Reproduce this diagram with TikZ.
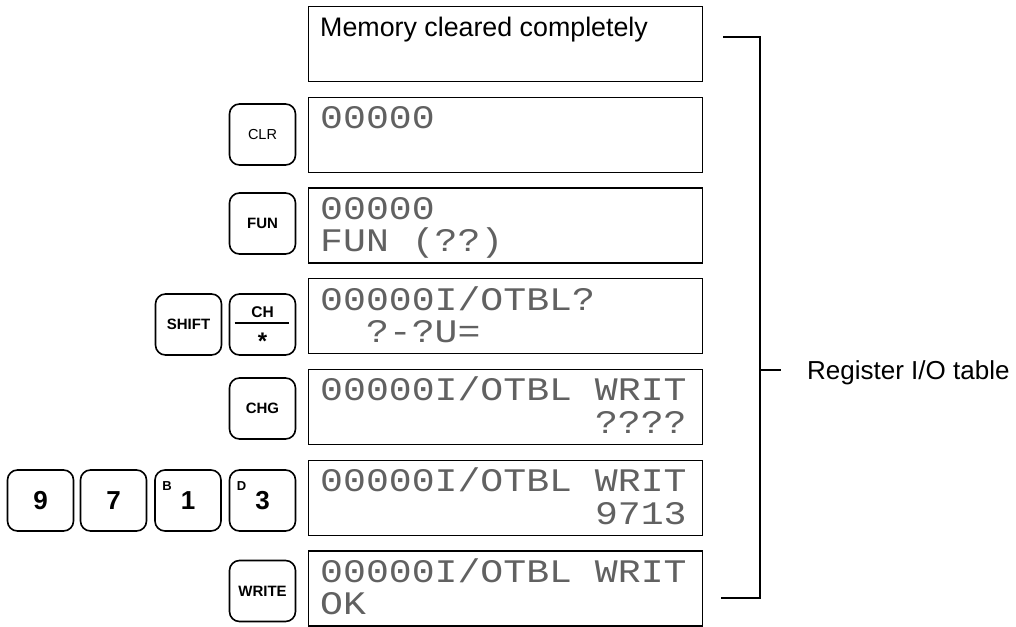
\documentclass[tikz,border=0pt]{standalone}
\usepackage{fontspec}
\usetikzlibrary{calc}
\newfontfamily\lsans{Liberation Sans}
\newfontfamily\lmono[FakeStretch=1.16]{Liberation Mono}
\frenchspacing
\begin{document}
\begin{tikzpicture}[x=1pt,y=-1pt,
  lcd/.style={draw, line width=1.3pt, minimum width=394pt, minimum height=75pt, inner sep=0pt, anchor=north west},
  lcdtxt/.style={font=\lmono\fontsize{32.9}{36}\selectfont, text=black!62, inner sep=0pt, anchor=base west},
  keybox/.style={draw, line width=1.6pt, rounded corners=10pt, minimum width=66pt, minimum height=61pt, inner sep=0pt, font=\lsans\bfseries\fontsize{15}{18}\selectfont},
  digit/.style={font=\lsans\bfseries\fontsize{26}{30}\selectfont},
  corner/.style={font=\lsans\bfseries\fontsize{13}{15}\selectfont, inner sep=0pt, anchor=north west},
  bracket/.style={line width=1.2pt},
  label/.style={font=\lsans\fontsize{26}{30}\selectfont, inner sep=0pt, anchor=base west}]
\useasboundingbox (0,0) rectangle (1016,626);

% display boxes
\node[lcd] (d1) at (308,6) {};
\node[lcd] (d2) at (308,96.7) {};
\node[lcd] (d3) at (308,187.4) {};
\node[lcd] (d4) at (308,278.1) {};
\node[lcd] (d5) at (308,368.8) {};
\node[lcd] (d6) at (308,459.5) {};
\node[lcd] (d7) at (308,550.2) {};

% display texts
\node[label, font=\lsans\fontsize{26.8}{30}\selectfont] (t1) at (320,36.5) {Memory cleared completely};
\node[lcdtxt] (t2a) at (320,128.7) {00000};
\node[lcdtxt] (t3a) at (320,219.4) {00000};
\node[lcdtxt] (t3b) at (320,251.9) {FUN (??)};
\node[lcdtxt] (t4a) at (320,310.1) {00000I/OTBL?};
\node[lcdtxt] (t4b) at (320,342.6) {~~?-?U=};
\node[lcdtxt] (t5a) at (320,400.8) {00000I/OTBL WRIT};
\node[lcdtxt] (t5b) at (320,433.3) {~~~~~~~~~~~~????};
\node[lcdtxt] (t6a) at (320,491.5) {00000I/OTBL WRIT};
\node[lcdtxt] (t6b) at (320,524.0) {~~~~~~~~~~~~9713};
\node[lcdtxt] (t7a) at (320,582.2) {00000I/OTBL WRIT};
\node[lcdtxt] (t7b) at (320,614.7) {OK};

% keys
\node[keybox, font=\lsans\fontsize{14.5}{18}\selectfont] (clr) at (262.5,134.5) {CLR};
\node[keybox] (fun) at (262.5,223.5) {FUN};
\node[keybox] (shift) at (188.5,324.5) {SHIFT};
\node[keybox] (ch) at (262.5,324.5) {};
\node[keybox] (chg) at (262.5,408.5) {CHG};
\node[keybox, digit] (k9) at (40.5,500.5) {9};
\node[keybox, digit] (k7) at (113.5,500.5) {7};
\node[keybox, digit] (k1) at (188,500.5) {1};
\node[keybox, digit] (k3) at (262.5,500.5) {3};
\node[keybox] (write) at (262.5,591) {WRITE};

% CH / * key contents
\draw[line width=1.6pt] ($(ch.west)+(6,-1.5)$) -- ($(ch.east)+(-7,-1.5)$);
\node[font=\lsans\bfseries\fontsize{15.5}{18}\selectfont, inner sep=0pt, anchor=base] (chtxt) at ($(ch.center)+(0,-7.5)$) {CH};
\node[font=\lsans\bfseries\fontsize{24}{26}\selectfont, inner sep=0pt, anchor=base] (star) at ($(ch.center)+(0,24.5)$) {*};

% small corner letters
\node[corner] (lb) at ($(k1.north west)+(8,12)$) {B};
\node[corner] (ld) at ($(k3.north west)+(8,12)$) {D};

% bracket
\coordinate (bt1) at (723,37);
\coordinate (bt2) at (760,37);
\coordinate (bb1) at (721,598);
\coordinate (bb2) at (760,598);
\coordinate (bm1) at (760,370);
\coordinate (bm2) at (781,370);
\draw[bracket] (bt1) -- (bt2) -- (bb2) -- (bb1);
\draw[bracket] (bm1) -- (bm2);
\node[label] (reg) at (807,379) {Register I/O table};
\end{tikzpicture}
\end{document}
